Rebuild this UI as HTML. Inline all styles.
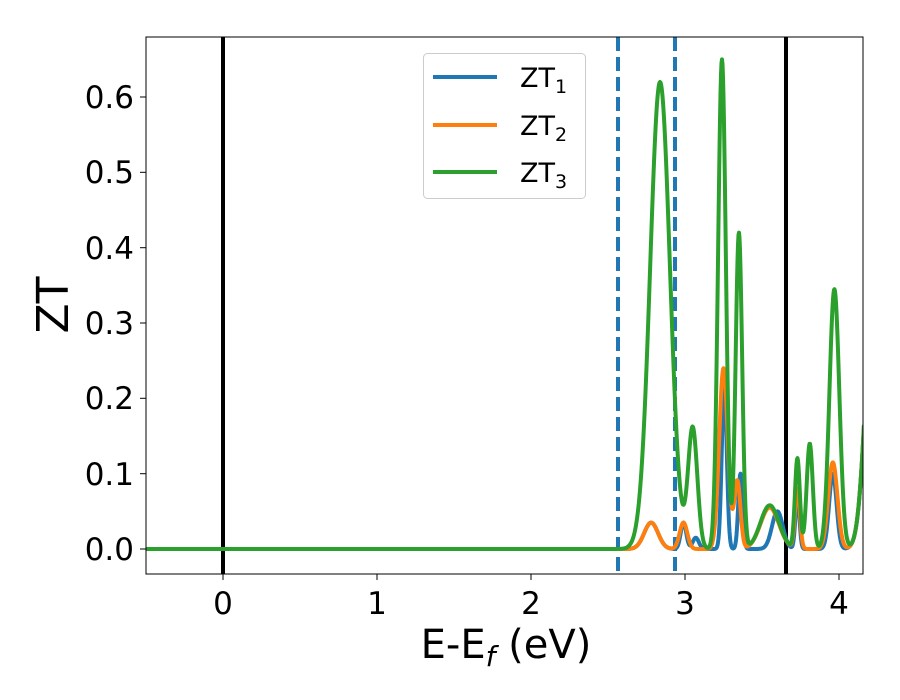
<!DOCTYPE html>
<html><head><meta charset="utf-8"><style>
body{margin:0;background:#fff}
svg{display:block;font-family:"DejaVu Sans","Liberation Sans",sans-serif}
</style></head><body>
<svg id="s" width="900" height="700" viewBox="0 0 900 700">
<defs><clipPath id="c"><rect x="146" y="37" width="717" height="537"/></clipPath></defs>
<rect x="0" y="0" width="900" height="700" fill="#fff"/>
<g clip-path="url(#c)" id="plot">
<line x1="223" y1="37" x2="223" y2="574" stroke="#000" stroke-width="4"/>
<line x1="786" y1="37" x2="786" y2="574" stroke="#000" stroke-width="4"/>
<line x1="618" y1="37" x2="618" y2="574" stroke="#1f77b4" stroke-width="4" stroke-dasharray="14,6"/>
<line x1="675" y1="37" x2="675" y2="574" stroke="#1f77b4" stroke-width="4" stroke-dasharray="14,6"/>
<path id="pb" fill="none" stroke="#1f77b4" stroke-width="4" stroke-linejoin="round"/>
<path id="po" fill="none" stroke="#ff7f0e" stroke-width="4" stroke-linejoin="round"/>
<path id="pg" fill="none" stroke="#2ca02c" stroke-width="4" stroke-linejoin="round"/>
</g>
<rect x="146" y="37" width="717" height="537" fill="none" stroke="#000" stroke-width="1"/>
<g stroke="#000" stroke-width="1">
<line x1="223" y1="574" x2="223" y2="580"/><line x1="377" y1="574" x2="377" y2="580"/>
<line x1="531" y1="574" x2="531" y2="580"/><line x1="685" y1="574" x2="685" y2="580"/>
<line x1="839" y1="574" x2="839" y2="580"/>
<line x1="140" y1="549" x2="146" y2="549"/><line x1="140" y1="473.7" x2="146" y2="473.7"/>
<line x1="140" y1="398.3" x2="146" y2="398.3"/><line x1="140" y1="323" x2="146" y2="323"/>
<line x1="140" y1="247.7" x2="146" y2="247.7"/><line x1="140" y1="172.3" x2="146" y2="172.3"/>
<line x1="140" y1="97" x2="146" y2="97"/>
</g>
<g font-size="31" fill="#000" text-anchor="middle">
<text x="223" y="614">0</text><text x="377" y="614">1</text><text x="531" y="614">2</text>
<text x="685" y="614">3</text><text x="839" y="614">4</text>
</g>
<g font-size="31" fill="#000" text-anchor="end">
<text x="134" y="560">0.0</text><text x="134" y="485">0.1</text><text x="134" y="409">0.2</text>
<text x="134" y="334">0.3</text><text x="134" y="259">0.4</text><text x="134" y="183">0.5</text>
<text x="134" y="108">0.6</text>
</g>
<text x="506" y="658" font-size="40" text-anchor="middle">E-E<tspan font-size="28" dy="8" font-style="italic">f</tspan><tspan dy="-8"> (eV)</tspan></text>
<text transform="translate(68,305) rotate(-90)" font-size="44" text-anchor="middle">ZT</text>
<rect x="423.5" y="53.5" width="162" height="145" rx="4" fill="#fff" stroke="#ccc" stroke-width="1"/>
<line x1="433" y1="77" x2="497" y2="77" stroke="#1f77b4" stroke-width="4"/>
<line x1="433" y1="125" x2="497" y2="125" stroke="#ff7f0e" stroke-width="4"/>
<line x1="433" y1="172" x2="497" y2="172" stroke="#2ca02c" stroke-width="4"/>
<g font-size="27" fill="#000">
<text x="520" y="87">ZT<tspan font-size="19" dy="6">1</tspan></text>
<text x="520" y="135">ZT<tspan font-size="19" dy="6">2</tspan></text>
<text x="520" y="182">ZT<tspan font-size="19" dy="6">3</tspan></text>
</g>
</svg>
<script>
function mk(comps){
  var d="";
  for(var px=146;px<=864;px+=0.5){
    var e=(px-223)/154, v=0;
    for(var i=0;i<comps.length;i++){var c=comps[i];var t=(e-c[0])/c[2];v+=c[1]*Math.exp(-0.5*t*t);}
    var y=549-v*753.3;
    d+=(d?"L":"M")+px.toFixed(1)+","+y.toFixed(1);
  }
  return d;
}
var G=[[2.838,.62,.064],[3.05,.16,.03],[3.24,.65,.025],[3.35,.42,.021],[3.55,.058,.06],[3.73,.12,.016],[3.81,.14,.02],[3.97,.345,.032],[4.22,.32,.05]];
var O=[[2.78,.035,.045],[2.99,.035,.025],[3.25,.24,.028],[3.34,.09,.02],[3.55,.055,.06],[3.73,.08,.016],[3.96,.115,.03],[4.22,.32,.05]];
var B=[[2.78,.035,.045],[2.99,.035,.018],[3.07,.015,.02],[3.255,.22,.016],[3.36,.1,.014],[3.6,.05,.035],[3.73,.07,.013],[3.96,.1,.024],[4.22,.32,.05]];
document.getElementById("pb").setAttribute("d",mk(B));
document.getElementById("po").setAttribute("d",mk(O));
document.getElementById("pg").setAttribute("d",mk(G));
</script>
</body></html>
